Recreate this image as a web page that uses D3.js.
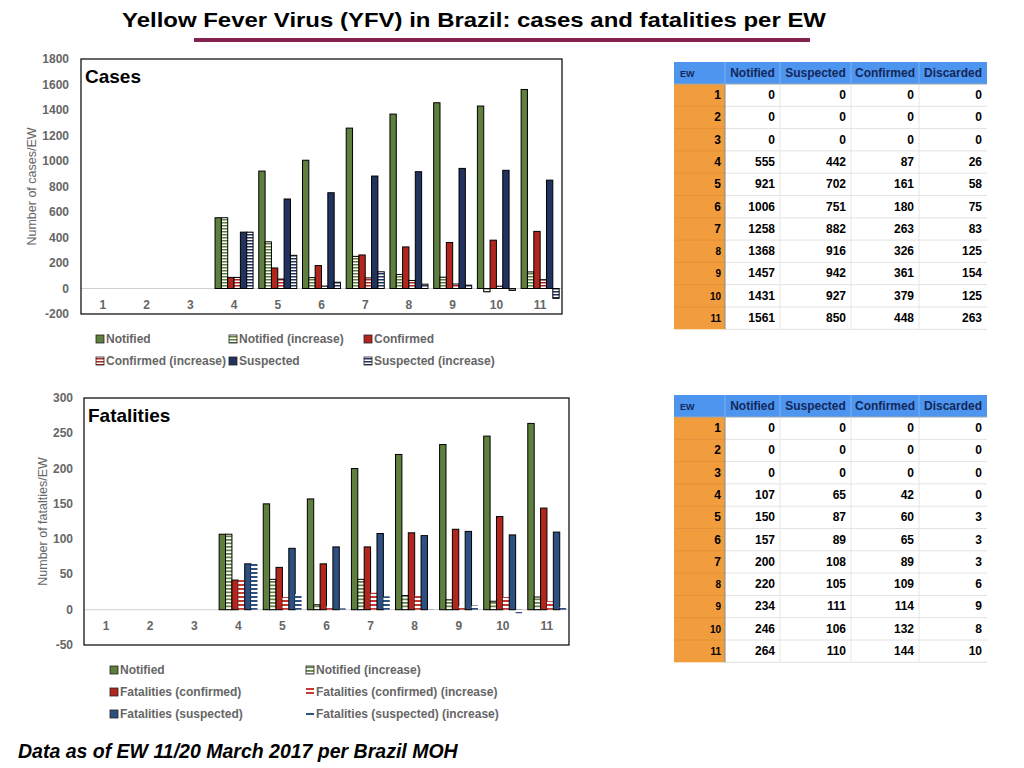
<!DOCTYPE html>
<html lang="en">
<head>
    <meta charset="UTF-8">
    <title>YFV Brazil</title>
    <script src="https://cdn.jsdelivr.net/npm/d3@7/dist/d3.min.js"></script>
    <style>
        body{
            margin: 0;
            background: #fff;
        }
        text{
            font-family: 'Liberation Sans', Arial, sans-serif;
        }
        .titulo{
            font-weight: 700;
            font-size: 21px;
            fill: #000;
        }
        .nombreGrafico{
            font-weight: 700;
            font-size: 19px;
            fill: #000;
        }
        .ticks{
            font-weight: 700;
            font-size: 12px;
            fill: #666;
        }
        .ejeTitulo{
            font-size: 12.5px;
            fill: #666;
        }
        .leyenda{
            font-weight: 700;
            font-size: 12px;
            fill: #666;
        }
        .caja{
            fill: none;
            stroke: #000;
            stroke-width: 1.2;
        }
        .cero{
            stroke: #d0d0d0;
            stroke-width: 1;
        }
        .pie{
            font-weight: 700;
            font-style: italic;
            font-size: 19.5px;
            fill: #000;
        }
        .celda{
            font-weight: 700;
            font-size: 12px;
            fill: #000;
        }
        .cabecera{
            font-weight: 700;
            font-size: 12px;
            fill: #14275a;
        }
    </style>
</head>
<body>
<div id="grafico"></div>

<script>

// semanas epidemiologicas
var ew = [1, 2, 3, 4, 5, 6, 7, 8, 9, 10, 11];

// casos (tabla superior)
var casesNotified = [0, 0, 0, 555, 921, 1006, 1258, 1368, 1457, 1431, 1561];
var casesSuspected = [0, 0, 0, 442, 702, 751, 882, 916, 942, 927, 850];
var casesConfirmed = [0, 0, 0, 87, 161, 180, 263, 326, 361, 379, 448];
var casesDiscarded = [0, 0, 0, 26, 58, 75, 83, 125, 154, 125, 263];
var casesNotifiedInc = [0, 0, 0, 555, 366, 85, 252, 110, 89, -26, 130];
var casesConfirmedInc = [0, 0, 0, 87, 74, 19, 83, 63, 35, 18, 69];
var casesSuspectedInc = [0, 0, 0, 442, 260, 49, 131, 34, 26, -15, -77];

// muertes (tabla inferior)
var fatalNotified = [0, 0, 0, 107, 150, 157, 200, 220, 234, 246, 264];
var fatalSuspected = [0, 0, 0, 65, 87, 89, 108, 105, 111, 106, 110];
var fatalConfirmed = [0, 0, 0, 42, 60, 65, 89, 109, 114, 132, 144];
var fatalDiscarded = [0, 0, 0, 0, 3, 3, 3, 6, 9, 8, 10];
var fatalNotifiedInc = [0, 0, 0, 107, 43, 7, 43, 20, 14, 12, 18];
var fatalConfirmedInc = [0, 0, 0, 42, 18, 5, 24, 20, 5, 18, 12];
var fatalSuspectedInc = [0, 0, 0, 65, 22, 2, 19, -3, 6, -5, 4];

var casesTicks = [-200, 0, 200, 400, 600, 800, 1000, 1200, 1400, 1600, 1800];
var fatalTicks = [-50, 0, 50, 100, 150, 200, 250, 300];
var tableHeaders = ["EW", "Notified", "Suspected", "Confirmed", "Discarded"];

var w = 1024;
var h = 768;

var verde = "#5e7f3e";
var rojo = "#b3261e";
var azulOscuro = "#22335f";
var azul = "#2e5080";

var svg = d3.select("#grafico")
    .append("svg")
    .attr("width", w)
    .attr("height", h);

var defs = svg.append("defs");

function rayas(id, color, alto, grosor){
    var p = defs.append("pattern")
        .attr("id", id)
        .attr("patternUnits", "userSpaceOnUse")
        .attr("width", 6)
        .attr("height", alto);
    p.append("rect").attr("width", 6).attr("height", alto).attr("fill", "#fff");
    p.append("rect").attr("width", 6).attr("height", grosor).attr("fill", color);
}
rayas("rVerde", verde, 3, 1.5);
rayas("rRojo", rojo, 3, 1.5);
rayas("rAzulOscuro", azulOscuro, 3, 1.5);
rayas("rVerde2", verde, 3.5, 1.7);
rayas("rRojo2", "#c23a33", 4, 2);
rayas("rAzul2", azul, 4, 2);

// titulo
svg.append("text")
    .classed("titulo", true)
    .attr("x", 474)
    .attr("y", 27)
    .attr("text-anchor", "middle")
    .attr("textLength", 704)
    .attr("lengthAdjust", "spacingAndGlyphs")
    .text("Yellow Fever Virus (YFV) in Brazil: cases and fatalities per EW");

svg.append("rect")
    .attr("x", 194)
    .attr("y", 38)
    .attr("width", 616)
    .attr("height", 4)
    .attr("fill", "#84234f");

function dibujarGrafico(cfg){
    var g = svg.append("g");

    var x = d3.scaleBand()
        .domain(ew)
        .range([cfg.x0, cfg.x1]);

    var xSerie = d3.scaleBand()
        .domain(d3.range(cfg.series.length))
        .range([0, x.bandwidth()])
        .paddingOuter(0.45);

    var y = d3.scaleLinear()
        .domain(cfg.dominio)
        .range([cfg.y1, cfg.y0]);

    // linea de cero
    g.append("line")
        .classed("cero", true)
        .attr("x1", cfg.x0)
        .attr("x2", cfg.x1)
        .attr("y1", y(0))
        .attr("y2", y(0));

    cfg.series.forEach(function(s, si){
        g.selectAll(".b" + si)
            .data(s.valores.map(function(v, i){ return {ew: ew[i], v: v}; })
                .filter(function(d){ return d.v !== 0; }))
            .enter()
            .append("rect")
            .attr("x", function(d){ return x(d.ew) + xSerie(si); })
            .attr("width", xSerie.bandwidth())
            .attr("y", function(d){ return y(Math.max(0, d.v)); })
            .attr("height", function(d){ return Math.abs(y(d.v) - y(0)); })
            .attr("fill", s.relleno)
            .attr("stroke", s.borde ? "#000" : "none")
            .attr("stroke-width", 1);
    });

    // caja
    g.append("rect")
        .classed("caja", true)
        .attr("x", cfg.x0)
        .attr("y", cfg.y0)
        .attr("width", cfg.x1 - cfg.x0)
        .attr("height", cfg.y1 - cfg.y0);

    g.append("text")
        .classed("nombreGrafico", true)
        .attr("x", cfg.x0 + 4)
        .attr("y", cfg.y0 + 24)
        .text(cfg.nombre);

    // eje y
    g.selectAll(".ty")
        .data(cfg.ticks)
        .enter()
        .append("text")
        .classed("ticks", true)
        .attr("x", cfg.tickX)
        .attr("y", function(d){ return y(d) + 4; })
        .attr("text-anchor", "end")
        .text(function(d){ return d; });

    // eje x
    g.selectAll(".tx")
        .data(ew)
        .enter()
        .append("text")
        .classed("ticks", true)
        .attr("x", function(d){ return x(d) + x.bandwidth() / 2; })
        .attr("y", cfg.labelY)
        .attr("text-anchor", "middle")
        .text(function(d){ return d; });

    g.append("text")
        .classed("ejeTitulo", true)
        .attr("transform", "translate(" + cfg.tituloX + "," + (cfg.y0 + cfg.y1) / 2 + ") rotate(-90)")
        .attr("text-anchor", "middle")
        .text(cfg.ejeTitulo);

    // leyenda
    var ley = g.selectAll(".ley")
        .data(cfg.series)
        .enter()
        .append("g")
        .attr("transform", function(d, i){
            var col = i % cfg.leyCols;
            var fila = Math.floor(i / cfg.leyCols);
            return "translate(" + cfg.leyX[col] + "," + (cfg.leyY + fila * 22) + ")";
        });
    ley.append("rect")
        .attr("x", 0)
        .attr("y", function(d){ return d.muestra ? -1 : -4; })
        .attr("width", 8)
        .attr("height", function(d){ return d.muestra ? 2 : 8; })
        .attr("fill", function(d){ return d.muestra ? d.muestra : d.relleno; })
        .attr("stroke", function(d){ return d.borde ? "#222" : "none"; })
        .attr("stroke-width", 0.8);
    ley.append("text")
        .classed("leyenda", true)
        .attr("x", 10)
        .attr("y", 4)
        .text(function(d){ return d.nombre; });
}

dibujarGrafico({
    nombre: "Cases",
    x0: 81, x1: 562, y0: 59, y1: 314,
    dominio: [-200, 1800],
    ticks: casesTicks,
    tickX: 69,
    labelY: 309,
    tituloX: 36,
    ejeTitulo: "Number of cases/EW",
    leyCols: 3,
    leyX: [96, 229, 364],
    leyY: 339,
    series: [
        {nombre: "Notified", valores: casesNotified, relleno: verde, borde: true},
        {nombre: "Notified (increase)", valores: casesNotifiedInc, relleno: "url(#rVerde)", borde: true},
        {nombre: "Confirmed", valores: casesConfirmed, relleno: rojo, borde: true},
        {nombre: "Confirmed (increase)", valores: casesConfirmedInc, relleno: "url(#rRojo)", borde: true},
        {nombre: "Suspected", valores: casesSuspected, relleno: azulOscuro, borde: true},
        {nombre: "Suspected (increase)", valores: casesSuspectedInc, relleno: "url(#rAzulOscuro)", borde: true}
    ]
});

dibujarGrafico({
    nombre: "Fatalities",
    x0: 84, x1: 569, y0: 398, y1: 645,
    dominio: [-50, 300],
    ticks: fatalTicks,
    tickX: 73,
    labelY: 630,
    tituloX: 47,
    ejeTitulo: "Number of fatalties/EW",
    leyCols: 2,
    leyX: [110, 306],
    leyY: 670,
    series: [
        {nombre: "Notified", valores: fatalNotified, relleno: verde, borde: true},
        {nombre: "Notified (increase)", valores: fatalNotifiedInc, relleno: "url(#rVerde2)", borde: true},
        {nombre: "Fatalities (confirmed)", valores: fatalConfirmed, relleno: rojo, borde: true},
        {nombre: "Fatalities (confirmed) (increase)", valores: fatalConfirmedInc, relleno: "url(#rRojo2)", borde: false},
        {nombre: "Fatalities (suspected)", valores: fatalSuspected, relleno: azul, borde: true},
        {nombre: "Fatalities (suspected) (increase)", valores: fatalSuspectedInc, relleno: "url(#rAzul2)", borde: false, muestra: azul}
    ]
});

// tablas
var colX = [674, 725, 780, 851, 919, 987];

function dibujarTabla(y0, columnas){
    var g = svg.append("g");
    var altoCab = 22;
    var altoFila = 22.3;
    var yFila = function(i){ return y0 + altoCab + i * altoFila; };

    g.append("rect")
        .attr("x", colX[0]).attr("y", y0)
        .attr("width", colX[5] - colX[0]).attr("height", altoCab)
        .attr("fill", "#4d95ee");

    g.append("rect")
        .attr("x", colX[0]).attr("y", y0 + altoCab)
        .attr("width", colX[1] - colX[0]).attr("height", ew.length * altoFila)
        .attr("fill", "#f19d3e");

    // lineas de filas
    g.selectAll(".lf")
        .data(d3.range(1, ew.length + 1))
        .enter()
        .append("line")
        .attr("x1", colX[1]).attr("x2", colX[5])
        .attr("y1", function(i){ return yFila(i); })
        .attr("y2", function(i){ return yFila(i); })
        .attr("stroke", "#e2e2e2");
    g.selectAll(".lfo")
        .data(d3.range(1, ew.length))
        .enter()
        .append("line")
        .attr("x1", colX[0]).attr("x2", colX[1])
        .attr("y1", function(i){ return yFila(i); })
        .attr("y2", function(i){ return yFila(i); })
        .attr("stroke", "#e3913a");

    // lineas de columnas
    g.selectAll(".lc")
        .data([2, 3, 4])
        .enter()
        .append("line")
        .attr("x1", function(c){ return colX[c]; })
        .attr("x2", function(c){ return colX[c]; })
        .attr("y1", y0 + altoCab)
        .attr("y2", yFila(ew.length))
        .attr("stroke", "#e6e6e6");
    g.selectAll(".lcc")
        .data([1, 2, 3, 4])
        .enter()
        .append("line")
        .attr("x1", function(c){ return colX[c]; })
        .attr("x2", function(c){ return colX[c]; })
        .attr("y1", y0)
        .attr("y2", y0 + altoCab)
        .attr("stroke", "#7fb2f2");
    g.append("line")
        .attr("x1", colX[1]).attr("x2", colX[1])
        .attr("y1", y0 + altoCab).attr("y2", yFila(ew.length))
        .attr("stroke", "#8a8a8a");
    g.append("line")
        .attr("x1", colX[0]).attr("x2", colX[5])
        .attr("y1", y0 + altoCab).attr("y2", y0 + altoCab)
        .attr("stroke", "#9aa8b8");

    // cabecera
    g.selectAll(".cab")
        .data(tableHeaders)
        .enter()
        .append("text")
        .classed("cabecera", true)
        .attr("x", function(d, i){ return i === 0 ? colX[0] + 6 : (colX[i] + colX[i + 1]) / 2; })
        .attr("y", y0 + 15)
        .attr("text-anchor", function(d, i){ return i === 0 ? "start" : "middle"; })
        .style("font-size", function(d, i){ return i === 0 ? "9px" : "12px"; })
        .text(function(d){ return d; });

    // semanas
    g.selectAll(".ew")
        .data(ew)
        .enter()
        .append("text")
        .classed("celda", true)
        .attr("x", colX[1] - 4)
        .attr("y", function(d, i){ return yFila(i) + 15; })
        .attr("text-anchor", "end")
        .style("font-size", function(d){ return d > 7 ? "10px" : "12px"; })
        .text(function(d){ return d; });

    columnas.forEach(function(valores, c){
        g.selectAll(".v" + c)
            .data(valores)
            .enter()
            .append("text")
            .classed("celda", true)
            .attr("x", colX[c + 2] - 5)
            .attr("y", function(d, i){ return yFila(i) + 15; })
            .attr("text-anchor", "end")
            .text(function(d){ return d; });
    });
}

dibujarTabla(62, [casesNotified, casesSuspected, casesConfirmed, casesDiscarded]);
dibujarTabla(395, [fatalNotified, fatalSuspected, fatalConfirmed, fatalDiscarded]);

svg.append("text")
    .classed("pie", true)
    .attr("x", 18)
    .attr("y", 758)
    .text("Data as of EW 11/20 March 2017 per Brazil MOH");

</script>
</body>
</html>
